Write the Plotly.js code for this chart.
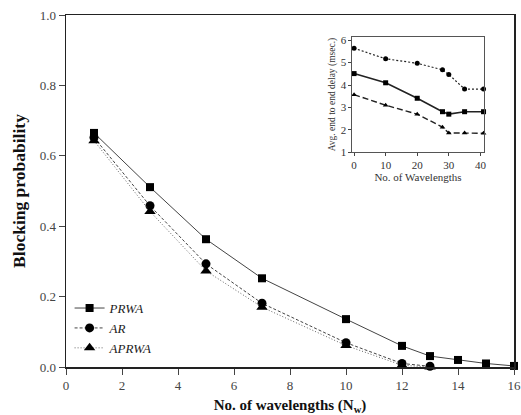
<!DOCTYPE html>
<html>
<head>
<meta charset="utf-8">
<script src="https://cdn.plot.ly/plotly-3.0.1.min.js"></script>
<style>html,body{margin:0;padding:0;background:#fff;}#chart{width:521px;height:415px;}</style>
</head>
<body>
<div id="chart"></div>
<script>
// Main chart data: blocking probability vs number of wavelengths
const prwaX = [1, 3, 5, 7, 10, 12, 13, 14, 15, 16];
const prwaY = [0.665, 0.511, 0.363, 0.252, 0.136, 0.060, 0.031, 0.020, 0.010, 0.003];
const arX = [1, 3, 5, 7, 10, 12, 13];
const arY = [0.652, 0.458, 0.293, 0.181, 0.069, 0.010, 0.002];
const aprwaX = [1, 3, 5, 7, 10, 12, 13];
const aprwaY = [0.643, 0.442, 0.273, 0.170, 0.061, 0.005, 0.0];
const seriesNames = ["PRWA", "AR", "APRWA"];

// Inset data: avg end to end delay vs number of wavelengths
const insetX = [0, 10, 20, 28, 30, 35, 41];
const insetCircle = [5.64, 5.17, 4.97, 4.68, 4.47, 3.82, 3.82];
const insetSquare = [4.51, 4.10, 3.41, 2.81, 2.70, 2.81, 2.81];
const insetTriangle = [3.57, 3.10, 2.70, 2.12, 1.86, 1.86, 1.85];

const xTicks = [0, 2, 4, 6, 8, 10, 12, 14, 16];
const yTicks = [0.0, 0.2, 0.4, 0.6, 0.8, 1.0];
const insetXTicks = [0, 10, 20, 30, 40];
const insetYTicks = [1, 2, 3, 4, 5, 6];

const FONT = "Liberation Serif, Times New Roman, serif";
const lineCol = "#444";

const traces = [
  {x: prwaX, y: prwaY, name: seriesNames[0], mode: "lines+markers", cliponaxis: false,
   line: {color: lineCol, width: 1, dash: "solid"}, marker: {symbol: "square", size: 8, color: "#000"}},
  {x: arX, y: arY, name: seriesNames[1], mode: "lines+markers", cliponaxis: false,
   line: {color: lineCol, width: 1, dash: "3px,2px"}, marker: {symbol: "circle", size: 9, color: "#000"}},
  {x: aprwaX, y: aprwaY, name: seriesNames[2], mode: "lines+markers", cliponaxis: false,
   line: {color: "#666", width: 1, dash: "1px,2px"}, marker: {symbol: "triangle-up", size: 10, color: "#000"}},
  {x: insetX, y: insetCircle, xaxis: "x2", yaxis: "y2", showlegend: false, mode: "lines+markers", cliponaxis: false,
   line: {color: "#222", width: 1.2, dash: "2px,2px"}, marker: {symbol: "circle", size: 5, color: "#000"}},
  {x: insetX, y: insetSquare, xaxis: "x2", yaxis: "y2", showlegend: false, mode: "lines+markers", cliponaxis: false,
   line: {color: "#222", width: 1.6, dash: "solid"}, marker: {symbol: "square", size: 5, color: "#000"}},
  {x: insetX, y: insetTriangle, xaxis: "x2", yaxis: "y2", showlegend: false, mode: "lines+markers", cliponaxis: false,
   line: {color: "#222", width: 1.4, dash: "6px,3px"}, marker: {symbol: "triangle-up", size: 5, color: "#000"}}
];

const layout = {
  width: 521, height: 415,
  margin: {l: 66, r: 7, t: 15, b: 48},
  paper_bgcolor: "#fff", plot_bgcolor: "#fff",
  font: {family: FONT, color: "#333", size: 13},
  showlegend: true,
  legend: {x: 0.008, y: 0.21, xanchor: "left", yanchor: "top", bgcolor: "rgba(0,0,0,0)",
           font: {family: FONT, size: 13, style: "italic", color: "#222"}, tracegroupgap: 0},
  xaxis: {range: [0, 16], tickvals: xTicks, ticktext: xTicks.map(String), ticks: "outside", ticklen: 6,
          showline: true, linecolor: "#222", linewidth: 1.5, mirror: true, showgrid: false, zeroline: false,
          tickfont: {size: 13, color: "#444"},
          title: {text: "<b>No. of wavelengths (N<sub>w</sub>)</b>", font: {size: 15, color: "#111"}, standoff: 8}},
  yaxis: {range: [0, 1], tickvals: yTicks, ticktext: yTicks.map(v => v.toFixed(1)), ticks: "outside", ticklen: 6,
          showline: true, linecolor: "#222", linewidth: 1.5, mirror: true, showgrid: false, zeroline: false,
          tickfont: {size: 13, color: "#444"},
          title: {text: "<b>Blocking probability</b>", font: {size: 17.5, color: "#111"}, standoff: 9}},
  xaxis2: {domain: [0.6395, 0.932], anchor: "y2", range: [-0.5, 41], tickvals: insetXTicks, ticks: "outside", ticklen: 3,
           showline: true, linecolor: "#555", linewidth: 1, mirror: true, showgrid: false, zeroline: false,
           tickfont: {size: 11, color: "#333"},
           title: {text: "No. of Wavelengths", font: {size: 11, color: "#333"}, standoff: 2}},
  yaxis2: {domain: [0.61, 0.938], anchor: "x2", range: [1, 6.15], tickvals: insetYTicks, ticks: "outside", ticklen: 3,
           showline: true, linecolor: "#555", linewidth: 1, mirror: true, showgrid: false, zeroline: false,
           tickfont: {size: 11, color: "#333"},
           title: {text: "Avg. end to end delay (msec.)", font: {size: 9.5, color: "#333"}, standoff: 3}}
};

Plotly.newPlot("chart", traces, layout, {displayModeBar: false, staticPlot: true});
</script>
</body>
</html>
